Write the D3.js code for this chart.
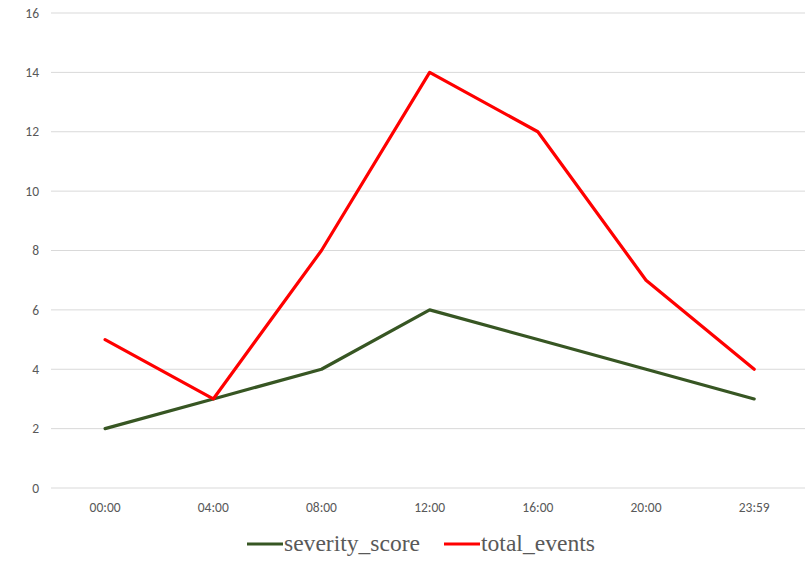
<!DOCTYPE html>
<html><head><meta charset="utf-8">
<script src="https://cdn.jsdelivr.net/npm/d3@7"></script>
<style>body{margin:0;background:#fff}svg{display:block}</style>
</head><body>
<svg id="c" width="805" height="563"></svg>
<script>
const categories = ["00:00","04:00","08:00","12:00","16:00","20:00","23:59"];
const severity_score = [2,3,4,6,5,4,3];
const total_events = [5,3,8,14,12,7,4];
const yTicks = [0,2,4,6,8,10,12,14,16];
const series = [
  {name:"severity_score", values:severity_score, color:"#375623"},
  {name:"total_events", values:total_events, color:"#FF0000"}
];

const svg = d3.select("#c");
const x = d3.scaleBand().domain(categories).range([51, 808.3]);
const y = d3.scaleLinear().domain([0,16]).range([488, 13]);
const tickFont = "Carlito, 'Open Sans', 'Liberation Sans', sans-serif";

svg.append("g").selectAll("line").data(yTicks).join("line")
  .attr("x1", 51).attr("x2", 805)
  .attr("y1", d=>y(d)).attr("y2", d=>y(d))
  .attr("stroke", "#d9d9d9").attr("stroke-width", 1);

svg.append("g").selectAll("text").data(yTicks).join("text")
  .attr("x", 39).attr("y", d=>y(d)).attr("dy","0.35em")
  .attr("text-anchor","end")
  .attr("font-family", tickFont)
  .attr("font-size", 13.5).attr("fill","#595959").text(d=>d);

svg.append("g").selectAll("text").data(categories).join("text")
  .attr("x", d=>x(d)+x.bandwidth()/2).attr("y", 512)
  .attr("text-anchor","middle")
  .attr("font-family", tickFont)
  .attr("font-size", 13.5).attr("fill","#595959").text(d=>d);

const line = d3.line()
  .x((d,i)=>x(categories[i])+x.bandwidth()/2)
  .y(d=>y(d));

svg.append("g").selectAll("path").data(series).join("path")
  .attr("d", d=>line(d.values))
  .attr("fill","none").attr("stroke", d=>d.color)
  .attr("stroke-width", 3.2).attr("stroke-linejoin","round").attr("stroke-linecap","round");

const leg = [{s:series[0], x:247, w:136}, {s:series[1], x:444, w:114}];
const lg = svg.append("g");
leg.forEach(l=>{
  lg.append("line").attr("x1", l.x).attr("x2", l.x+36).attr("y1", 544).attr("y2", 544)
    .attr("stroke", l.s.color).attr("stroke-width", 3.2);
  lg.append("text").attr("x", l.x+37).attr("y", 544).attr("dy","0.32em")
    .attr("font-family","'Liberation Serif', 'Times New Roman', serif")
    .attr("font-size", 22.5).attr("fill","#595959")
    .attr("textLength", l.w).attr("lengthAdjust","spacingAndGlyphs")
    .text(l.s.name);
});
</script>
</body></html>
